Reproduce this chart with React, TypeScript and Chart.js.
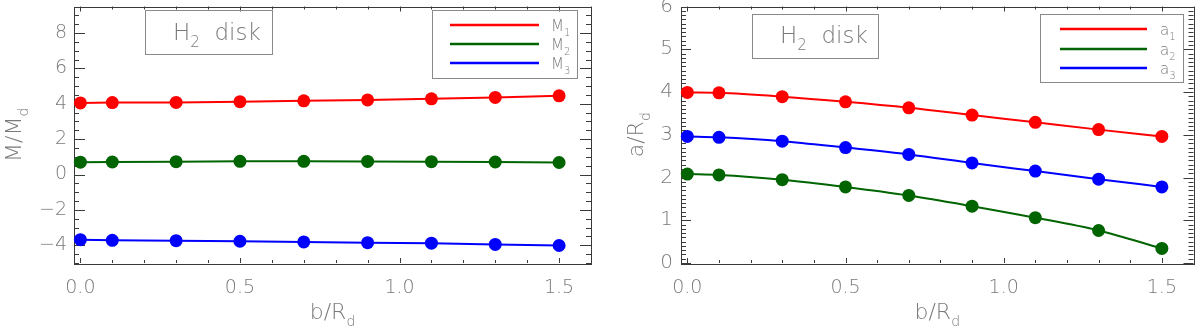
import React, { useEffect, useRef } from "react";
import { Chart, registerables } from "chart.js";

Chart.register(...registerables);

// ---------- data ----------
const bValues = [0, 0.1, 0.3, 0.5, 0.7, 0.9, 1.1, 1.3, 1.5];

const M1 = [4.05, 4.07, 4.08, 4.12, 4.17, 4.22, 4.28, 4.36, 4.45];
const M2 = [0.7, 0.71, 0.73, 0.75, 0.75, 0.74, 0.73, 0.71, 0.68];
const M3 = [-3.68, -3.72, -3.74, -3.77, -3.81, -3.85, -3.88, -3.95, -4.01];

const A1 = [3.99, 3.98, 3.89, 3.77, 3.63, 3.46, 3.29, 3.12, 2.96];
const A2 = [2.08, 2.06, 1.95, 1.78, 1.58, 1.33, 1.06, 0.76, 0.34];
const A3 = [2.96, 2.94, 2.85, 2.7, 2.54, 2.34, 2.15, 1.96, 1.78];

const xTickValues = [0, 0.5, 1.0, 1.5];
const xTickLabels = ["0.0", "0.5", "1.0", "1.5"];
const leftYTickValues = [-4, -2, 0, 2, 4, 6, 8];
const leftYTickLabels = ["\u22124", "\u22122", "0", "2", "4", "6", "8"];
const rightYTickValues = [0, 1, 2, 3, 4, 5, 6];
const rightYTickLabels = ["0", "1", "2", "3", "4", "5", "6"];

const leftSeriesNames = ["M", "M", "M"];
const rightSeriesNames = ["a", "a", "a"];
const seriesSubs = ["1", "2", "3"];

const RED = "#ff0000";
const GREEN = "#006400";
const BLUE = "#0000ff";

const FONT = "'DejaVu Sans', sans-serif";
const TEXT_COLOR = "#7a7a7a";
const AXIS_COLOR = "#3a3a3a";
const BOX_COLOR = "#8a8a8a";

type Part = { t: string; sub?: boolean };

function richWidth(ctx: CanvasRenderingContext2D, parts: Part[], size: number) {
  let w = 0;
  for (const p of parts) {
    ctx.font = `200 ${p.sub ? Math.round(size * 0.65) : size}px ${FONT}`;
    w += ctx.measureText(p.t).width;
  }
  return w;
}

function drawRich(
  ctx: CanvasRenderingContext2D,
  parts: Part[],
  x: number,
  y: number,
  size: number,
  align: "left" | "center"
) {
  const w = richWidth(ctx, parts, size);
  let cx = align === "center" ? x - w / 2 : x;
  ctx.textAlign = "left";
  ctx.textBaseline = "alphabetic";
  ctx.fillStyle = TEXT_COLOR;
  for (const p of parts) {
    const s = p.sub ? Math.round(size * 0.65) : size;
    ctx.font = `200 ${s}px ${FONT}`;
    ctx.fillText(p.t, cx, p.sub ? y + size * 0.3 : y);
    cx += ctx.measureText(p.t).width;
  }
}

type PanelCfg = {
  xMin: number;
  xMax: number;
  yMin: number;
  yMax: number;
  padding: { left: number; right: number; top: number; bottom: number };
  yTicks: number[];
  yLabels: string[];
  yMinorStep: number;
  yMajorLen: number;
  yMinorLen: number;
  yLabelGap: number;
  yLabelSize: number;
  yTitle: Part[];
  yTitleX: number;
  titleBox: { x: number; y: number; w: number; h: number; tx: number; ty: number; size: number };
  legendBox: { x: number; y: number; w: number; h: number; lx1: number; lx2: number; ly: number[]; tx: number; size: number };
  names: string[];
  colors: string[];
  smooth: boolean;
  series: number[][];
};

const idlPlugin = {
  id: "idlFrame",
  beforeDatasetsDraw(chart: any) {
    const cfg: PanelCfg = chart.options.plugins.idlFrame.cfg;
    const ctx: CanvasRenderingContext2D = chart.ctx;
    const { left, right, top, bottom } = chart.chartArea;
    const xs = chart.scales.x;
    const ys = chart.scales.y;
    ctx.save();
    ctx.strokeStyle = AXIS_COLOR;
    ctx.lineWidth = 1;
    ctx.strokeRect(Math.round(left) + 0.5, Math.round(top) + 0.5, Math.round(right - left), Math.round(bottom - top));

    ctx.beginPath();
    for (let i = 0; i <= 16; i++) {
      const v = i / 10;
      const px = Math.round(xs.getPixelForValue(v)) + 0.5;
      const major = i % 5 === 0;
      const len = major ? 5 : 3;
      ctx.moveTo(px, bottom);
      ctx.lineTo(px, bottom - len);
      ctx.moveTo(px, top);
      ctx.lineTo(px, top + len);
    }
    const nMinor = Math.round((cfg.yMax - cfg.yMin) / cfg.yMinorStep);
    for (let i = 0; i <= nMinor; i++) {
      const v = cfg.yMin + i * cfg.yMinorStep;
      const py = Math.round(ys.getPixelForValue(v)) + 0.5;
      const major = cfg.yTicks.some((t) => Math.abs(t - v) < 1e-6);
      const len = major ? cfg.yMajorLen : cfg.yMinorLen;
      ctx.moveTo(left, py);
      ctx.lineTo(left + len, py);
      ctx.moveTo(right, py);
      ctx.lineTo(right - len, py);
    }
    ctx.stroke();
    ctx.restore();
  },
  afterDraw(chart: any) {
    const cfg: PanelCfg = chart.options.plugins.idlFrame.cfg;
    const ctx: CanvasRenderingContext2D = chart.ctx;
    const { left, right, top, bottom } = chart.chartArea;
    const xs = chart.scales.x;
    const ys = chart.scales.y;
    ctx.save();
    ctx.fillStyle = TEXT_COLOR;
    ctx.font = `200 19px ${FONT}`;
    ctx.textAlign = "center";
    ctx.textBaseline = "middle";
    xTickValues.forEach((v, i) => {
      ctx.fillText(xTickLabels[i], xs.getPixelForValue(v), bottom + 25);
    });
    ctx.font = `200 ${cfg.yLabelSize}px ${FONT}`;
    ctx.textAlign = "right";
    cfg.yTicks.forEach((v, i) => {
      ctx.fillText(cfg.yLabels[i], left - cfg.yLabelGap, ys.getPixelForValue(v));
    });
    drawRich(ctx, [{ t: "b/R" }, { t: "d", sub: true }], (left + right) / 2, bottom + 56, 22, "center");
    ctx.save();
    ctx.translate(cfg.yTitleX, (top + bottom) / 2);
    ctx.rotate(-Math.PI / 2);
    drawRich(ctx, cfg.yTitle, 0, 7, 22, "center");
    ctx.restore();

    const tb = cfg.titleBox;
    ctx.strokeStyle = BOX_COLOR;
    ctx.lineWidth = 1;
    ctx.strokeRect(tb.x + 0.5, tb.y + 0.5, tb.w, tb.h);
    drawRich(ctx, [{ t: "H" }, { t: "2", sub: true }, { t: "  disk" }], tb.tx, tb.ty, tb.size, "left");

    const lb = cfg.legendBox;
    ctx.strokeStyle = BOX_COLOR;
    ctx.lineWidth = 1;
    ctx.strokeRect(lb.x + 0.5, lb.y + 0.5, lb.w, lb.h);
    cfg.names.forEach((n, i) => {
      ctx.strokeStyle = cfg.colors[i];
      ctx.lineWidth = 2.5;
      ctx.beginPath();
      ctx.moveTo(lb.lx1, lb.ly[i]);
      ctx.lineTo(lb.lx2, lb.ly[i]);
      ctx.stroke();
      drawRich(ctx, [{ t: n }, { t: seriesSubs[i], sub: true }], lb.tx, lb.ly[i] + 6, lb.size, "left");
    });
    ctx.restore();
  },
};

const leftCfg: PanelCfg = {
  xMin: -0.02,
  xMax: 1.6,
  yMin: -5,
  yMax: 9.5,
  padding: { left: 74, right: 9, top: 2, bottom: 63 },
  yTicks: leftYTickValues,
  yLabels: leftYTickLabels,
  yMinorStep: 0.5,
  yMajorLen: 11,
  yMinorLen: 5,
  yLabelGap: 7,
  yLabelSize: 19,
  yTitle: [{ t: "M/M" }, { t: "d", sub: true }],
  yTitleX: 14,
  titleBox: { x: 145, y: 10, w: 127, h: 44, tx: 173, ty: 40, size: 23 },
  legendBox: { x: 432, y: 10, w: 145, h: 68, lx1: 450, lx2: 539, ly: [25, 44, 63], tx: 551, size: 15 },
  names: leftSeriesNames,
  colors: [RED, GREEN, BLUE],
  smooth: false,
  series: [M1, M2, M3],
};

const rightCfg: PanelCfg = {
  xMin: -0.02,
  xMax: 1.6,
  yMin: 0,
  yMax: 6,
  padding: { left: 81, right: 3, top: 2, bottom: 63 },
  yTicks: rightYTickValues,
  yLabels: rightYTickLabels,
  yMinorStep: 0.1,
  yMajorLen: 10,
  yMinorLen: 5,
  yLabelGap: 8,
  yLabelSize: 20,
  yTitle: [{ t: "a/R" }, { t: "d", sub: true }],
  yTitleX: 36,
  titleBox: { x: 152, y: 14, w: 126, h: 44, tx: 180, ty: 43, size: 23 },
  legendBox: { x: 440, y: 14, w: 143, h: 68, lx1: 460, lx2: 547, ly: [29, 49, 68], tx: 560, size: 15 },
  names: rightSeriesNames,
  colors: [RED, GREEN, BLUE],
  smooth: true,
  series: [A1, A2, A3],
};

function Panel({ cfg }: { cfg: PanelCfg }) {
  const ref = useRef<HTMLCanvasElement | null>(null);
  useEffect(() => {
    if (!ref.current) return;
    const chart = new Chart(ref.current, {
      type: "line",
      data: {
        datasets: cfg.series.map((s, i) => ({
          label: cfg.names[i] + seriesSubs[i],
          data: bValues.map((x, j) => ({ x, y: s[j] })),
          borderColor: cfg.colors[i],
          backgroundColor: cfg.colors[i],
          pointBackgroundColor: cfg.colors[i],
          pointBorderWidth: 0,
          pointRadius: 6.5,
          borderWidth: 2,
          tension: cfg.smooth ? 0.4 : 0,
          cubicInterpolationMode: cfg.smooth ? "monotone" : "default",
          clip: false,
        })),
      } as any,
      options: {
        animation: false,
        responsive: false,
        maintainAspectRatio: false,
        devicePixelRatio: 1,
        layout: { padding: cfg.padding },
        plugins: {
          legend: { display: false },
          tooltip: { enabled: false },
          idlFrame: { cfg },
        } as any,
        scales: {
          x: { type: "linear", min: cfg.xMin, max: cfg.xMax, display: false },
          y: { type: "linear", min: cfg.yMin, max: cfg.yMax, display: false },
        },
      },
      plugins: [idlPlugin],
    });
    return () => chart.destroy();
  }, [cfg]);
  return <canvas ref={ref} width={600} height={326} style={{ width: 600, height: 326, display: "block" }} />;
}

export default function App() {
  return (
    <div
      style={{
        position: "absolute",
        left: 0,
        top: 0,
        width: 1200,
        height: 326,
        display: "flex",
        background: "#ffffff",
      }}
    >
      <Panel cfg={leftCfg} />
      <Panel cfg={rightCfg} />
    </div>
  );
}
